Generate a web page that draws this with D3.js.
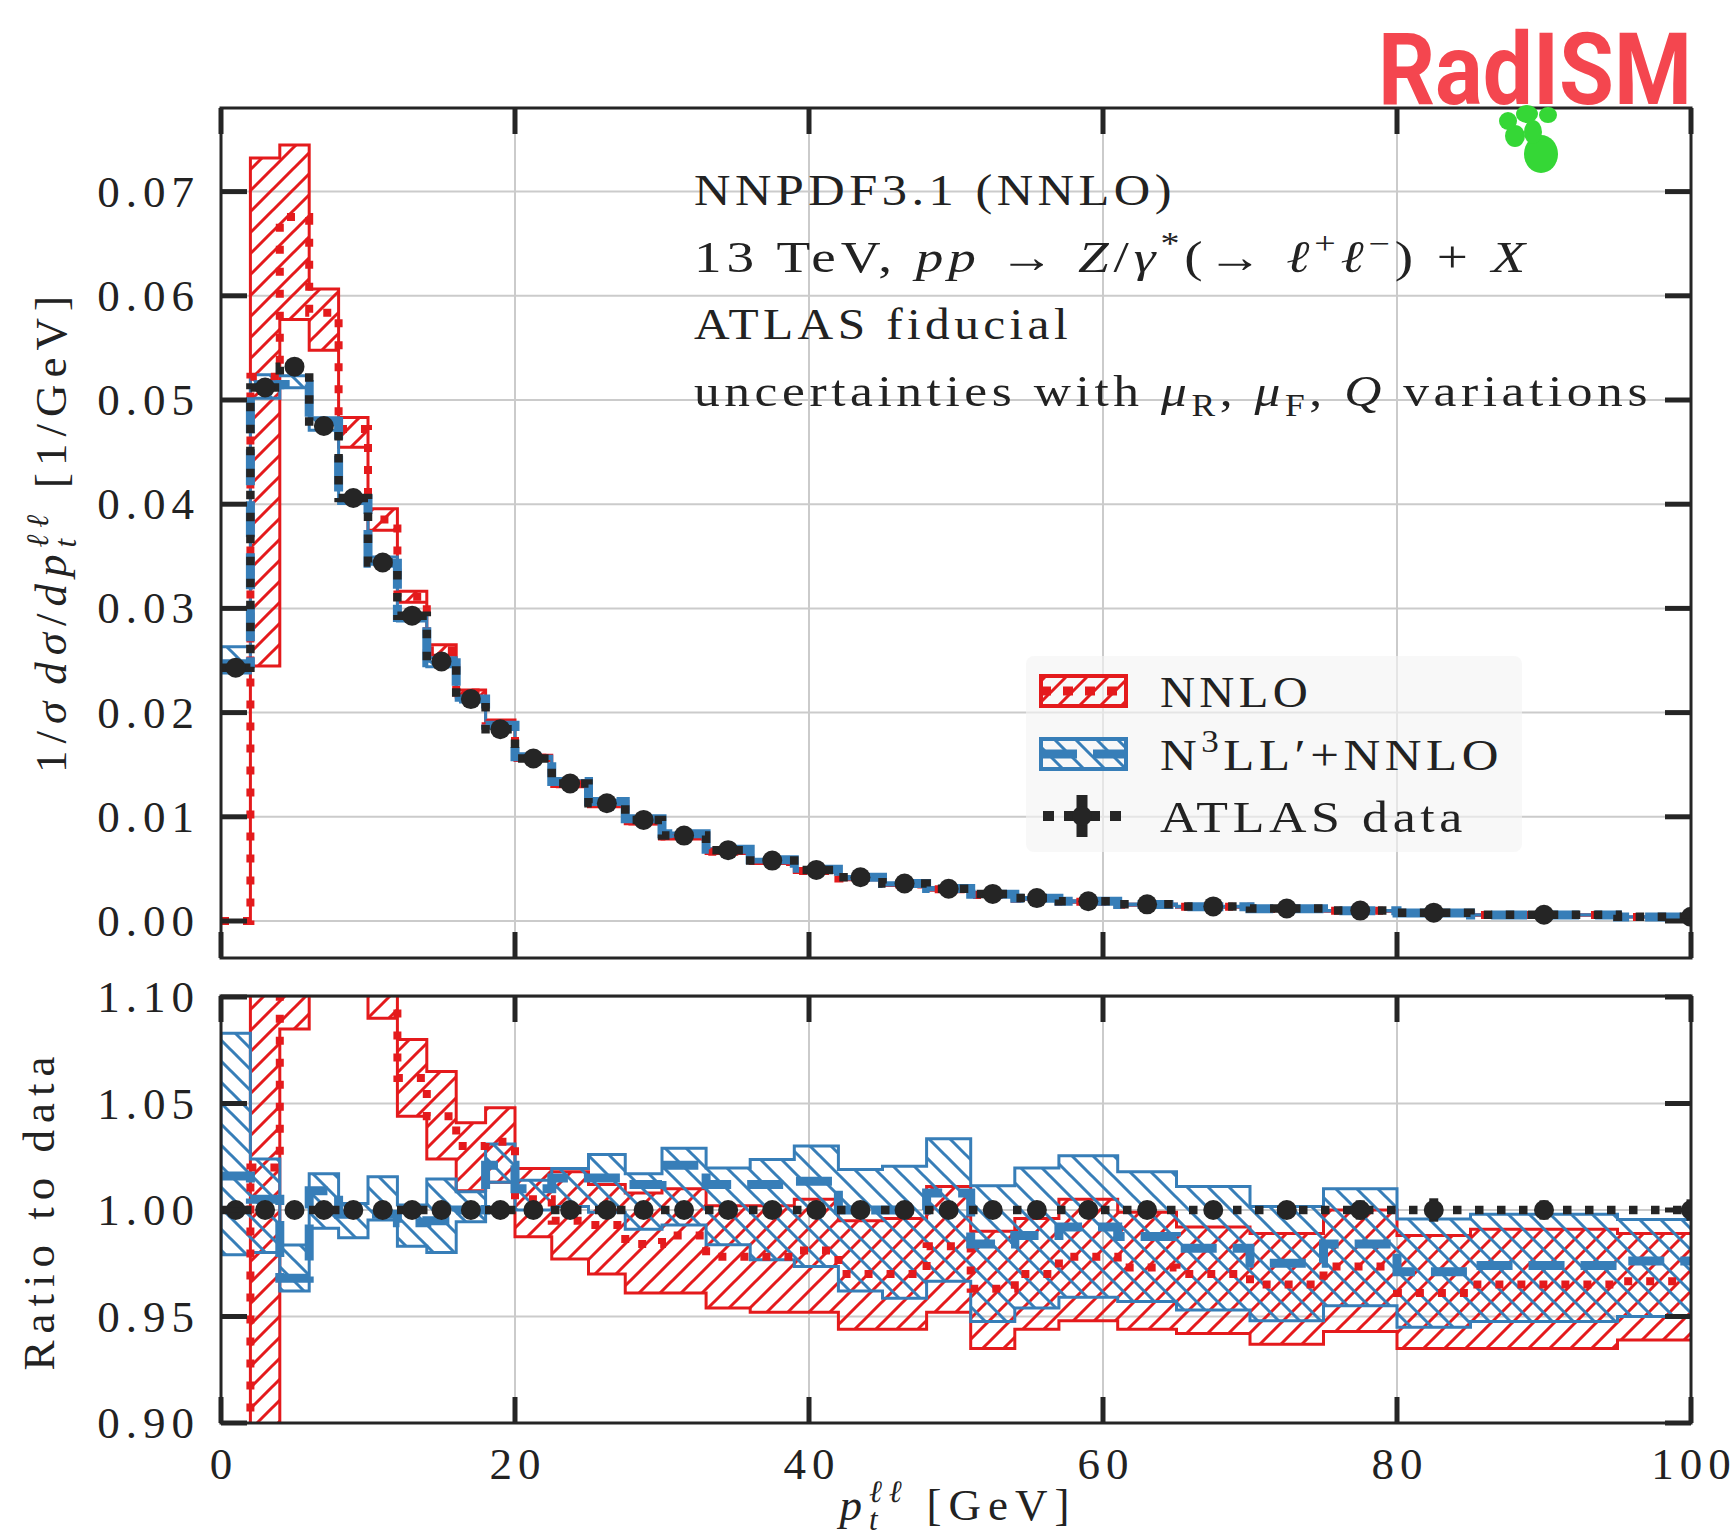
<!DOCTYPE html>
<html>
<head>
<meta charset="utf-8">
<script src="https://cdn.jsdelivr.net/npm/d3@7/dist/d3.min.js"></script>
<style>
  body { margin: 0; background: #fff; }
  svg text { font-family: "Liberation Serif", "Times New Roman", serif; fill: #222; }
</style>
</head>
<body>
<svg id="chart" width="1736" height="1536"></svg>
<script>
// ----- data (bins in GeV) -----
var binEdges = [0,2,4,6,8,10,12,14,16,18,20,22.5,25,27.5,30,33,36,39,42,45,48,51,54,57,61,65,70,75,80,85,95,105];

// ATLAS normalised distribution 1/sigma dsigma/dpt [1/GeV]
var dataVals = [0.0243,0.0512,0.0532,0.0475,0.0406,0.0344,0.0293,0.0249,0.0213,0.0184,
                0.0156,0.0132,0.0113,0.0097,0.0082,0.0068,0.0058,0.0049,0.0042,0.0036,
                0.0031,0.0026,0.0022,0.0019,0.0016,0.0014,0.0012,0.0010,0.0008,0.0006,0.0004];
// relative data errors
var dataErr = [0.003,0.002,0.002,0.002,0.002,0.002,0.002,0.002,0.002,0.002,
               0.002,0.002,0.003,0.003,0.003,0.003,0.003,0.003,0.003,0.003,
               0.003,0.003,0.004,0.004,0.004,0.004,0.004,0.0045,0.0055,0.0045,0.005];

// NNLO, ratio to data (central, low, high)
var nnloMid = [0,1.02,1.27,1.229,1.163,1.12,1.062,1.044,1.030,1.032,
               1.005,0.995,0.993,0.984,0.988,0.978,0.978,0.981,0.970,0.970,
               0.983,0.963,0.970,0.978,0.973,0.970,0.965,0.9735,0.961,0.965,0.9665];
var nnloLo  = [0,0.478,1.085,1.153,1.12,1.09,1.044,1.024,1.009,1.013,
               0.9875,0.977,0.970,0.961,0.961,0.954,0.952,0.952,0.944,0.944,
               0.952,0.935,0.944,0.948,0.944,0.942,0.937,0.943,0.935,0.935,0.939];
var nnloHi  = [0,1.43,1.40,1.277,1.19,1.15,1.080,1.065,1.041,1.048,
               1.0195,1.018,1.012,1.008,1.010,1.002,1.002,1.005,0.995,0.996,
               1.011,0.990,0.996,1.005,0.999,0.992,0.989,1.000,0.988,0.991,0.989];

// N3LL'+NNLO, ratio to data
var n3llMid = [1.016,1.005,0.968,1.009,0.998,0.998,0.994,0.995,1.000,1.021,
               1.010,1.015,1.015,1.012,1.021,1.012,1.012,1.0135,1.000,1.000,
               1.008,0.984,0.988,0.992,0.9876,0.982,0.975,0.984,0.971,0.974,0.976];
var n3llLo  = [0.979,0.980,0.962,0.9914,0.987,0.9953,0.983,0.980,0.9945,1.013,
               1.000,1.0016,0.999,0.991,0.993,0.9837,0.9766,0.9735,0.962,0.9586,
               0.9665,0.9476,0.954,0.959,0.957,0.953,0.948,0.955,0.945,0.9476,0.950];
var n3llHi  = [1.083,1.024,0.9836,1.017,1.003,1.0156,1.0023,1.0145,1.0086,1.031,
               1.014,1.0195,1.026,1.017,1.029,1.0197,1.0237,1.030,1.019,1.0205,
               1.0334,1.0114,1.0197,1.0255,1.018,1.011,1.0017,1.010,0.9958,0.998,0.9955];

var dataRatio = dataVals.map(function(){ return 1; });

var xTicks = [0,20,40,60,80,100];
var yTicksTop = [0,0.01,0.02,0.03,0.04,0.05,0.06,0.07];
var yTicksRatio = [0.90,0.95,1.00,1.05,1.10];

// ----- layout -----
var red = "#e41a1c", blue = "#377eb8", dark = "#252525", gridCol = "#cbcbcb";
var L = 221, R = 1691;
var topY0 = 108, topY1 = 958;
var botY0 = 996, botY1 = 1423;
var nBins = dataVals.length;

var x = d3.scaleLinear().domain([0,100]).range([L,R]);
var yTop = d3.scaleLinear().domain([0,0.07]).range([921,191.6]);
var yRat = d3.scaleLinear().domain([0.90,1.10]).range([1423,997]);

var svg = d3.select("#chart");
var defs = svg.append("defs");

function hatch(id, color, rising) {
  var s = 21;
  var d = rising
    ? "M0," + s + "L" + s + ",0 M-3,3L3,-3 M" + (s-3) + "," + (s+3) + "L" + (s+3) + "," + (s-3)
    : "M0,0L" + s + "," + s + " M-3," + (s-3) + "L3," + (s+3) + " M" + (s-3) + ",-3L" + (s+3) + ",3";
  var p = defs.append("pattern").attr("id", id)
    .attr("patternUnits", "userSpaceOnUse").attr("width", s).attr("height", s);
  p.append("path").attr("d", d).attr("stroke", color).attr("stroke-width", 3).attr("fill", "none");
}
hatch("hatchRed", red, true);
hatch("hatchBlue", blue, false);

defs.append("clipPath").attr("id", "clipTop").append("rect")
  .attr("x", L).attr("y", topY0).attr("width", R - L).attr("height", topY1 - topY0);
defs.append("clipPath").attr("id", "clipBot").append("rect")
  .attr("x", L).attr("y", botY0).attr("width", R - L).attr("height", botY1 - botY0);

// ----- grid -----
function grid(y, ticks, y0, y1) {
  var g = svg.append("g").attr("stroke", gridCol).attr("stroke-width", 2);
  xTicks.slice(1, -1).forEach(function(t){
    g.append("line").attr("x1", x(t)).attr("x2", x(t)).attr("y1", y0).attr("y2", y1);
  });
  ticks.forEach(function(t){
    g.append("line").attr("x1", L).attr("x2", R).attr("y1", y(t)).attr("y2", y(t));
  });
}
grid(yTop, yTicksTop, topY0, topY1);
grid(yRat, yTicksRatio, botY0, botY1);

// ----- histograms -----
function drawPanel(clipId, y, val) {
  var g = svg.append("g").attr("clip-path", "url(#" + clipId + ")");
  var pts = binEdges.map(function(e, i){ return {e: e, i: Math.min(i, nBins - 1)}; });

  function band(lo, hi, pat, col) {
    var area = d3.area().curve(d3.curveStepAfter)
      .x(function(d){ return x(d.e); })
      .y0(function(d){ return y(val(lo[d.i], d.i)); })
      .y1(function(d){ return y(val(hi[d.i], d.i)); });
    g.append("path").attr("d", area(pts))
      .attr("fill", "url(#" + pat + ")").attr("stroke", col).attr("stroke-width", 3);
  }
  function central(mid, col, w, dash) {
    var line = d3.line().curve(d3.curveStepAfter)
      .x(function(d){ return x(d.e); })
      .y(function(d){ return y(val(mid[d.i], d.i)); });
    g.append("path").attr("d", line(pts)).attr("fill", "none")
      .attr("stroke", col).attr("stroke-width", w).attr("stroke-dasharray", dash);
  }

  band(nnloLo, nnloHi, "hatchRed", red);
  band(n3llLo, n3llHi, "hatchBlue", blue);
  central(nnloMid, red, 8, "8 14");
  central(n3llMid, blue, 9, "36 16");
  central(dataRatio, dark, 8.5, "8.5 13.5");

  // data points with error bars
  for (var i = 0; i < nBins; i++) {
    var cx = x((binEdges[i] + binEdges[i+1]) / 2);
    g.append("line").attr("x1", cx).attr("x2", cx)
      .attr("y1", y(val(1 - dataErr[i], i))).attr("y2", y(val(1 + dataErr[i], i)))
      .attr("stroke", dark).attr("stroke-width", 9);
    g.append("circle").attr("cx", cx).attr("cy", y(val(1, i))).attr("r", 10).attr("fill", dark);
  }
}
drawPanel("clipTop", yTop, function(r, i){ return r * dataVals[i]; });
drawPanel("clipBot", yRat, function(r){ return r; });

// ----- frames and ticks -----
function frame(y, ticks, y0, y1) {
  var g = svg.append("g").attr("stroke", dark);
  g.append("rect").attr("x", L).attr("y", y0).attr("width", R - L).attr("height", y1 - y0)
    .attr("fill", "none").attr("stroke-width", 3);
  var tl = 26;
  xTicks.forEach(function(t){
    g.append("line").attr("x1", x(t)).attr("x2", x(t)).attr("y1", y1).attr("y2", y1 - tl).attr("stroke-width", 5);
    g.append("line").attr("x1", x(t)).attr("x2", x(t)).attr("y1", y0).attr("y2", y0 + tl).attr("stroke-width", 5);
  });
  ticks.forEach(function(t){
    g.append("line").attr("x1", L).attr("x2", L + tl).attr("y1", y(t)).attr("y2", y(t)).attr("stroke-width", 5);
    g.append("line").attr("x1", R).attr("x2", R - tl).attr("y1", y(t)).attr("y2", y(t)).attr("stroke-width", 5);
  });
  var fmt = d3.format(".2f");
  ticks.forEach(function(t){
    svg.append("text").attr("x", 200).attr("y", y(t) + 15)
      .attr("text-anchor", "end").attr("font-size", 45).attr("letter-spacing", 6)
      .text(fmt(t));
  });
}
frame(yTop, yTicksTop, topY0, topY1);
frame(yRat, yTicksRatio, botY0, botY1);

xTicks.forEach(function(t){
  svg.append("text").attr("x", x(t) + 3).attr("y", 1479)
    .attr("text-anchor", "middle").attr("font-size", 45).attr("letter-spacing", 6)
    .text(t);
});

// ----- rich text helper (sub/superscripts) -----
function rich(sel, segs) {
  var shift = 0, lastSup = null;
  segs.forEach(function(s){
    var target = s.sup ? -18 : (s.sub ? 10 : 0);
    var ts = sel.append("tspan").text(s.t).attr("dy", target - shift);
    shift = target;
    if (s.it) ts.attr("font-style", "italic");
    if (s.sup || s.sub) ts.attr("font-size", 31);
    if (s.under && lastSup) ts.attr("dx", -lastSup.node().getComputedTextLength());
    if (s.dx) ts.attr("dx", s.dx);
    if (s.sup) lastSup = ts;
  });
}

// axis titles
rich(svg.append("text").attr("x", 958).attr("y", 1520).attr("text-anchor", "middle")
  .attr("font-size", 45).attr("letter-spacing", 7),
  [{t: "p", it: 1}, {t: "ℓℓ", it: 1, sup: 1}, {t: "t", it: 1, sub: 1, under: 1}, {t: "[GeV]", dx: 42}]);

rich(svg.append("text").attr("transform", "translate(66,531) rotate(-90)")
  .attr("text-anchor", "middle").attr("font-size", 45).attr("letter-spacing", 7),
  [{t: "1/"}, {t: "σ", it: 1}, {t: "dσ", it: 1, dx: 10}, {t: "/"}, {t: "dp", it: 1},
   {t: "ℓℓ", it: 1, sup: 1}, {t: "t", it: 1, sub: 1, under: 1}, {t: "[1/GeV]", dx: 44}]);

svg.append("text").attr("transform", "translate(54,1210) rotate(-90)")
  .attr("text-anchor", "middle").attr("font-size", 45).attr("letter-spacing", 7)
  .text("Ratio to data");

// ----- annotation -----
var annoLines = [
  [{t: "NNPDF3.1 (NNLO)"}],
  [{t: "13 TeV, "}, {t: "pp", it: 1}, {t: " → "}, {t: "Z", it: 1}, {t: "/"}, {t: "γ", it: 1},
   {t: "*", sup: 1}, {t: "(→ "}, {t: "ℓ", it: 1}, {t: "+", sup: 1}, {t: "ℓ", it: 1}, {t: "−", sup: 1},
   {t: ") + "}, {t: "X", it: 1}],
  [{t: "ATLAS fiducial"}],
  [{t: "uncertainties with "}, {t: "μ", it: 1}, {t: "R", sub: 1}, {t: ", "}, {t: "μ", it: 1},
   {t: "F", sub: 1}, {t: ", "}, {t: "Q", it: 1}, {t: " variations"}]
];
var annoBase = [205, 272, 339, 406];
var annoWidth = [482, 836, 378, 958];
annoLines.forEach(function(segs, k){
  rich(svg.append("text").attr("x", 694).attr("y", annoBase[k])
    .attr("font-size", 45).attr("letter-spacing", 4).attr("xml:space", "preserve")
    .attr("textLength", annoWidth[k]).attr("lengthAdjust", "spacingAndGlyphs"), segs);
});

// ----- legend -----
var lg = svg.append("g");
lg.append("rect").attr("x", 1026).attr("y", 656).attr("width", 496).attr("height", 196)
  .attr("rx", 8).attr("fill", "rgb(244,244,244)").attr("fill-opacity", 0.64);
var legY = [691, 754, 816];
var sx0 = 1041, sx1 = 1126;
[["hatchRed", red, 9, "10 12"], ["hatchBlue", blue, 9, "36 16"]].forEach(function(s, k){
  lg.append("rect").attr("x", sx0).attr("y", legY[k] - 15).attr("width", sx1 - sx0).attr("height", 30)
    .attr("fill", "url(#" + s[0] + ")").attr("stroke", s[1]).attr("stroke-width", 4);
  lg.append("line").attr("x1", sx0).attr("x2", sx1).attr("y1", legY[k]).attr("y2", legY[k])
    .attr("stroke", s[1]).attr("stroke-width", s[2]).attr("stroke-dasharray", s[3]);
});
lg.append("line").attr("x1", 1043).attr("x2", 1122).attr("y1", legY[2]).attr("y2", legY[2])
  .attr("stroke", dark).attr("stroke-width", 10).attr("stroke-dasharray", "11 10 36 10 11");
lg.append("line").attr("x1", 1082).attr("x2", 1082)
  .attr("y1", legY[2] - 21).attr("y2", legY[2] + 21).attr("stroke", dark).attr("stroke-width", 11);
lg.append("circle").attr("cx", 1082).attr("cy", legY[2]).attr("r", 10).attr("fill", dark);

var legLabels = [[{t: "NNLO"}], [{t: "N"}, {t: "3", sup: 1}, {t: "LL′+NNLO"}], [{t: "ATLAS data"}]];
var legWidth = [152, 343, 307];
legLabels.forEach(function(segs, k){
  rich(lg.append("text").attr("x", 1160).attr("y", legY[k] + 16)
    .attr("font-size", 45).attr("letter-spacing", 4)
    .attr("textLength", legWidth[k]).attr("lengthAdjust", "spacingAndGlyphs"), segs);
});

// ----- logo -----
var logo = svg.append("g");
logo.append("text").attr("x", 1378).attr("y", 104)
  .style("font-family", "Roboto, 'Open Sans', sans-serif").style("font-weight", 700)
  .style("fill", "#f4464f").attr("font-size", 100)
  .attr("textLength", 314).attr("lengthAdjust", "spacingAndGlyphs")
  .text("RadISM");
var leaves = [[1541,154,17,19],[1515,136,10,11],[1508,121,9,9],[1527,114,11,9],[1548,115,9,8],[1533,132,9,12]];
leaves.forEach(function(l){
  logo.append("ellipse").attr("cx", l[0]).attr("cy", l[1]).attr("rx", l[2]).attr("ry", l[3]).attr("fill", "#35d736");
});
</script>
</body>
</html>
